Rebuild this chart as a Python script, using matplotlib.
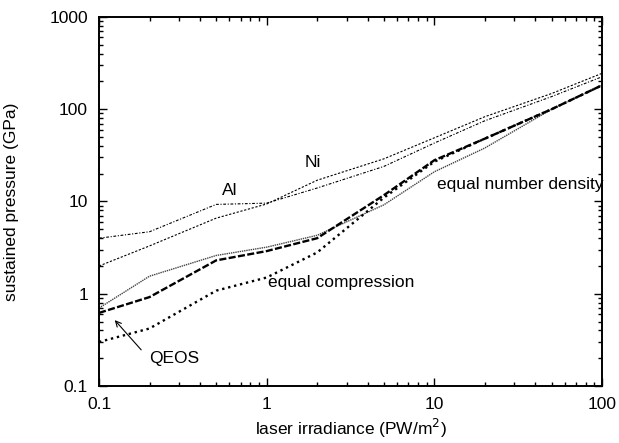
import matplotlib
matplotlib.use("Agg")
import matplotlib.pyplot as plt
from matplotlib.ticker import FixedLocator, FixedFormatter, LogLocator, NullFormatter

plt.rcParams['font.family'] = ['Liberation Sans', 'DejaVu Sans']

irradiance = [0.1, 0.2, 0.5, 1, 2, 5, 10, 20, 50, 100]
al = [4.0, 4.7, 9.3, 9.6, 14, 24, 43, 75, 137, 225]
ni = [2.0, 3.3, 6.6, 9.4, 17, 29, 49, 83, 148, 245]
qeos = [0.62, 0.92, 2.3, 2.9, 4.0, 11.7, 28, 48, 100, 182]
equal_number_density = [0.7, 1.55, 2.6, 3.2, 4.3, 9.2, 21, 38, 100, 182]
equal_compression = [0.3, 0.42, 1.08, 1.5, 2.8, 11, 27, 48, 100, 182]

x_ticks = [0.1, 1, 10, 100]
x_tick_labels = ["0.1", "1", "10", "100"]
y_ticks = [0.1, 1, 10, 100, 1000]
y_tick_labels = ["0.1", "1", "10", "100", "1000"]

FS = 12.5

fig = plt.figure(figsize=(6.19, 4.43), dpi=100)
ax = fig.add_axes([0.160, 0.1287, 0.8125, 0.8329])

ax.plot(irradiance, al, color='black', lw=0.8, linestyle=(0, (2.5, 1.5, 1, 1.5)))
ax.plot(irradiance, ni, color='black', lw=0.8, linestyle=(0, (2, 1.5)))
ax.plot(irradiance, equal_number_density, color='#444444', lw=1.0, linestyle=(0, (1, 0.6)))
ax.plot(irradiance, qeos, color='black', lw=1.7, linestyle=(0, (3, 1)))
ax.plot(irradiance, equal_compression, color='black', lw=1.7, linestyle=(0, (1, 1.6)))

ax.set_xscale('log')
ax.set_yscale('log')
ax.set_xlim(0.1, 100)
ax.set_ylim(0.1, 1000)

ax.xaxis.set_major_locator(FixedLocator(x_ticks))
ax.xaxis.set_major_formatter(FixedFormatter(x_tick_labels))
ax.yaxis.set_major_locator(FixedLocator(y_ticks))
ax.yaxis.set_major_formatter(FixedFormatter(y_tick_labels))
ax.xaxis.set_minor_locator(LogLocator(base=10, subs=range(2, 10)))
ax.yaxis.set_minor_locator(LogLocator(base=10, subs=range(2, 10)))
ax.xaxis.set_minor_formatter(NullFormatter())
ax.yaxis.set_minor_formatter(NullFormatter())

ax.tick_params(which='both', direction='in', top=True, right=True, labelsize=FS, width=1)
ax.tick_params(which='major', length=6)
ax.tick_params(axis='y', which='major', pad=8)
ax.tick_params(axis='x', which='major', pad=8)
ax.tick_params(which='minor', length=3)
for s in ax.spines.values():
    s.set_linewidth(1.4)

ax.set_xlabel("laser irradiance (PW/m$^2$)", fontsize=FS)
ax.set_ylabel("sustained pressure (GPa)", fontsize=FS)
ax.xaxis.set_label_coords(0.5, -0.085)
ax.yaxis.set_label_coords(-0.159, 0.5)

ax.text(0.60, 13.3, "Al", fontsize=FS, ha='center', va='center')
ax.text(1.89, 26.8, "Ni", fontsize=FS, ha='center', va='center')
ax.text(10.4, 15.1, "equal number density", fontsize=FS, ha='left', va='center')
ax.text(1.02, 1.31, "equal compression", fontsize=FS, ha='left', va='center')
ax.text(0.20, 0.20, "QEOS", fontsize=FS, ha='left', va='center')
ax.annotate("", xy=(0.121, 0.545), xytext=(0.183, 0.234),
            arrowprops=dict(arrowstyle='->', color='black', lw=0.8))

fig.savefig("out.png", dpi=100)
